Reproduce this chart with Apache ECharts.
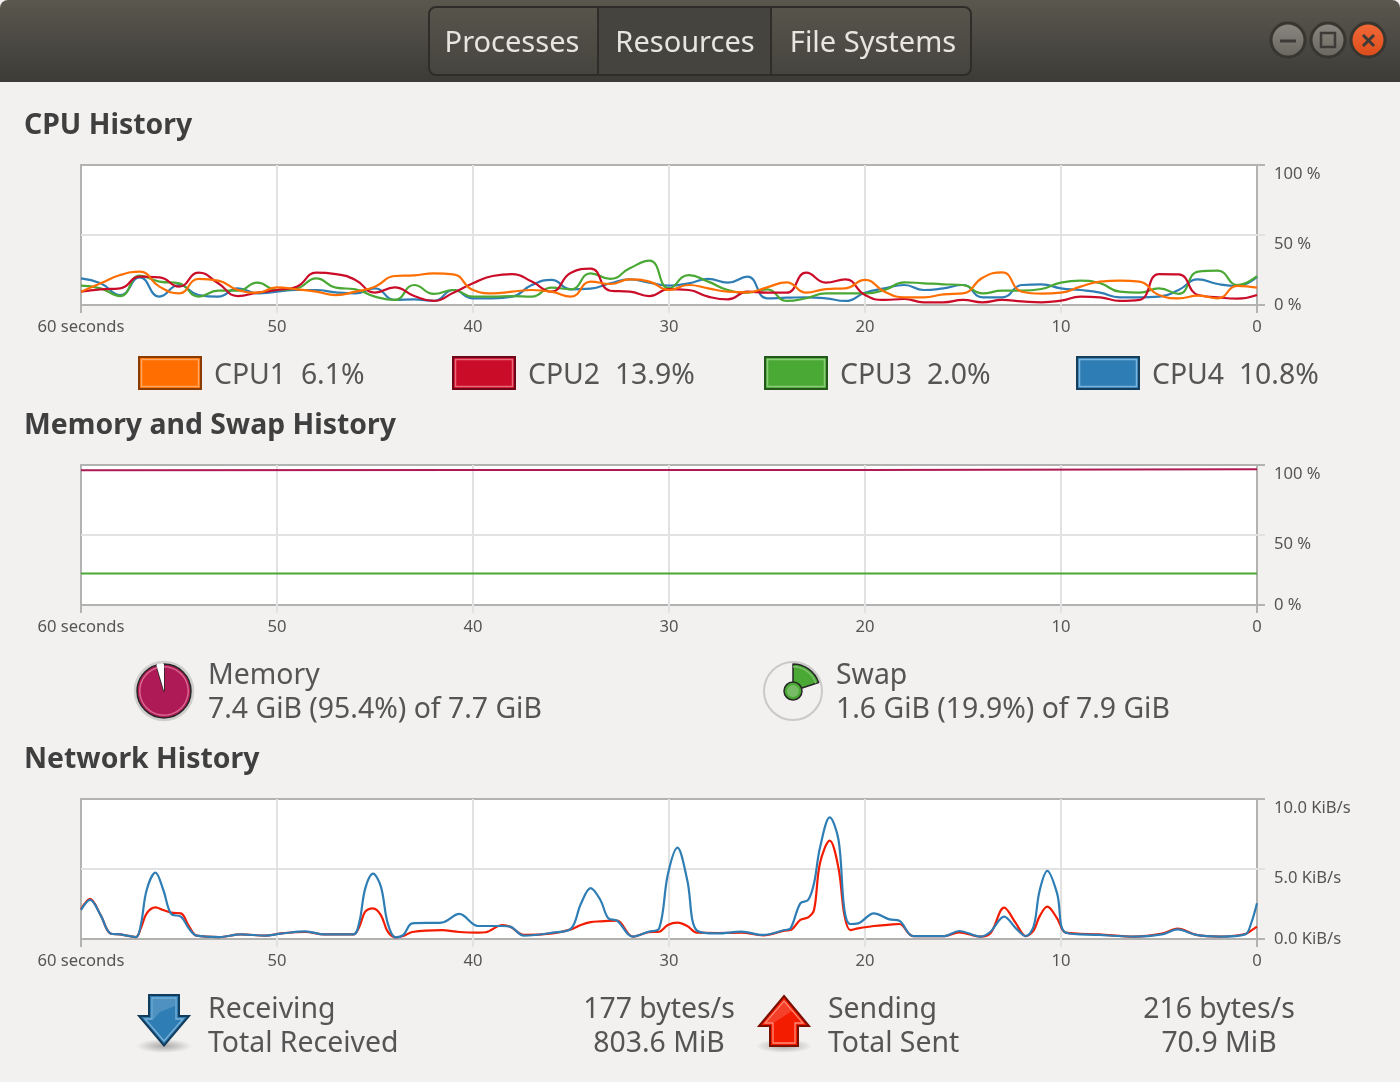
<!DOCTYPE html>
<html>
<head>
<meta charset="utf-8">
<title>Resources</title>
<script src="https://cdn.jsdelivr.net/npm/echarts@6/dist/echarts.min.js"></script>
<style>
  html, body { margin: 0; padding: 0; background: #f2f1f0; }
  #chart { width: 1400px; height: 1082px; }
</style>
</head>
<body>
<div id="chart"></div>
<script>
const fontFamily = '"Noto Sans", "Open Sans", sans-serif'

// seconds ago, one sample a second
const cpuSeconds = [60, 59, 58, 57, 56, 55, 54, 53, 52, 51, 50, 49, 48, 47, 46, 45, 44, 43, 42, 41,
  40, 39, 38, 37, 36, 35, 34, 33, 32, 31, 30, 29, 28, 27, 26, 25, 24, 23, 22, 21,
  20, 19, 18, 17, 16, 15, 14, 13, 12, 11, 10, 9, 8, 7, 6, 5, 4, 3, 2, 1, 0]
const cpu1 = [9.5, 15.5, 21.4, 23.8, 13.1, 8.3, 18.6, 17.4, 10.7, 8.8, 12.6, 11.2, 9.5, 7.1, 9.5, 13.1, 20.7, 21.2, 22.6, 21.9,
  10.7, 8.3, 9.5, 10.7, 9.5, 6, 16.7, 15, 18.3, 16.7, 10.7, 14.3, 11.9, 9.5, 9, 12.6, 16.2, 8.8, 11.4, 11.9,
  17.9, 9.5, 5.5, 5.5, 7.6, 8.3, 19.5, 23.3, 9.5, 8.1, 8.8, 13.1, 16.7, 17.4, 16.7, 7.1, 4.8, 6.7, 4.8, 13.6, 12.4]
const cpu2 = [9.5, 11.2, 11.9, 20.2, 19.8, 13.1, 23.1, 15.5, 6.4, 8.8, 10.7, 13.1, 23.1, 22.1, 17.9, 8.8, 12.6, 6.4, 2.9, 8.8,
  15.5, 20.7, 22.1, 16.7, 9.5, 23.1, 26, 10.2, 9.5, 6.4, 11.4, 10.7, 6, 4, 9.5, 8.8, 8.8, 23.1, 16, 18.3,
  7.1, 3.6, 4.3, 1.9, 1.9, 3.6, 1.9, 3.6, 2.6, 1.9, 3.1, 6, 5.5, 2.9, 3.6, 22.1, 21.9, 7.1, 5.5, 4.5, 7.1]
const cpu3 = [13.8, 11.9, 6.4, 21, 16.7, 15.5, 6, 10.2, 10.2, 16, 10.7, 11.9, 19, 12.4, 11.2, 6, 3.6, 14.3, 7.9, 10.7,
  6, 6, 6.4, 6, 12.4, 11.2, 22.6, 18.6, 26.2, 31.7, 11.9, 21.4, 16.7, 10.7, 8.8, 11.2, 2.9, 4.8, 8.3, 8.3,
  8.3, 10.7, 16.2, 15.5, 14.8, 14.3, 8.3, 10.2, 10.2, 11.4, 16, 17.4, 15.5, 9.5, 8.8, 11.9, 7.9, 23.8, 24.5, 14.3, 20.7]
const cpu4 = [19, 15.5, 7.1, 19.8, 6, 14.3, 7.1, 6, 11.9, 8.3, 9.5, 10.7, 10.7, 9, 8.3, 11.9, 3.6, 4, 2.9, 10.7,
  4.8, 4.8, 6, 14.3, 17.9, 11.2, 11.7, 15.5, 18.3, 16, 13.8, 15.5, 18.6, 16, 20.2, 4.8, 5.2, 5.5, 4.8, 2.9,
  8.8, 11.9, 14.3, 10.7, 11.9, 14.3, 5.5, 5.5, 14.3, 14.8, 11.9, 10.7, 8.8, 5.5, 5.5, 6, 10.7, 18.3, 15, 13.6, 20.2]

const memSeconds = [60, 40, 20, 0]
const memoryPct = [96.2, 96.4, 96.4, 97]
const swapPct = [22.5, 22.5, 22.5, 22.5]

// network curves have narrow peaks so they are read at the turning points
const netSeconds = [60, 59.54, 59, 58.5, 58, 57.2, 56.95, 56.65, 56.2, 55.8, 55.4, 54.9, 54.5, 54.1, 52.95, 51.85, 50.6, 49.8, 48.55, 47.6,
  46.1, 45.8, 45.5, 45.1, 44.7, 44.35, 43.95, 43.55, 43.1, 41.6, 40.7, 39.75, 39.35, 38.5, 38.1, 37.4, 35.95, 35, 34.5, 34,
  33.5, 33.1, 32.65, 31.85, 31.05, 30.5, 30.06, 29.57, 29.07, 28.57, 27.5, 26.3, 25.2, 24.1, 23.8, 23.3, 22.9, 22.6, 22.3, 21.8,
  21.35, 21.05, 20.75, 20.35, 19.55, 18.75, 18.25, 17.55, 15.95, 15.2, 14.1, 13.6, 12.9, 12.3, 11.8, 11.4, 11.1, 10.7, 10.2, 9.75,
  8.05, 6.25, 4.85, 4.05, 3.1, 1.9, 0.6, 0.3, 0]
const netReceived = [2.07, 2.79, 1.71, 0.4, 0.33, 0.14, 1, 3.5, 4.74, 3.5, 1.79, 1.6, 0.76, 0.24, 0.14, 0.33, 0.24, 0.38, 0.55, 0.33,
  0.33, 1.2, 3.6, 4.67, 3.74, 1.12, 0.12, 0.29, 1.12, 1.17, 1.79, 0.93, 0.93, 0.93, 0.88, 0.24, 0.45, 0.74, 2.5, 3.64,
  2.79, 1.48, 1.31, 0.17, 0.52, 0.76, 4.6, 6.52, 4.21, 0.6, 0.4, 0.52, 0.29, 0.64, 0.76, 2.55, 2.79, 3.98, 6.5, 8.69,
  7.07, 2.07, 1.07, 1.12, 1.83, 1.4, 1.31, 0.21, 0.21, 0.57, 0.17, 0.52, 1.6, 0.76, 0.21, 0.88, 3.4, 4.86, 3.26, 0.45,
  0.29, 0.17, 0.33, 0.69, 0.29, 0.17, 0.33, 1.12, 2.55]
const netSent = [2.12, 2.86, 1.71, 0.4, 0.33, 0.14, 0.76, 1.83, 2.26, 2.07, 1.88, 1.83, 0.93, 0.24, 0.14, 0.33, 0.24, 0.4, 0.5, 0.33,
  0.33, 0.88, 1.95, 2.19, 1.71, 0.52, 0.12, 0.21, 0.5, 0.64, 0.5, 0.45, 0.48, 1, 0.88, 0.29, 0.4, 0.69, 1, 1.21,
  1.26, 1.29, 1.31, 0.17, 0.48, 0.52, 1, 1.17, 0.93, 0.45, 0.43, 0.45, 0.26, 0.6, 0.64, 1.36, 1.55, 2.07, 5.4, 7.02,
  5.05, 1.71, 0.64, 0.76, 0.93, 1.02, 1.07, 0.21, 0.21, 0.48, 0.17, 0.4, 2.24, 1.12, 0.21, 0.6, 1.6, 2.31, 1.48, 0.45,
  0.33, 0.17, 0.38, 0.74, 0.29, 0.17, 0.36, 0.6, 0.88]

const memoryUsed = 95.4
const swapUsed = 19.9

const xTickLabels = { 60: '60 seconds', 50: '50', 40: '40', 30: '30', 20: '20', 10: '10', 0: '0' }
const tabLabels = ['Processes', 'Resources', 'File Systems']
const sectionTitles = ['CPU History', 'Memory and Swap History', 'Network History']
const cpuLegend = ['CPU1  6.1%', 'CPU2  13.9%', 'CPU3  2.0%', 'CPU4  10.8%']

const colors = { cpu1: '#ff6e00', cpu2: '#cb0c29', cpu3: '#4aa834', cpu4: '#2e7db4', memory: '#ad1a55', swap: '#4aa834', sent: '#f41c00', received: '#2e7db4' }
const frameColor = '#b2b2b0'
const gridColor = '#e2e2e2'
const textColor = '#555555'
const valueSize = 28.4
const tickSize = 16.6

// top of each plot, they are all 140 high
const gridTops = [165, 465, 799]

function makeGrid(top) {
  return { left: 81, right: 143, top, height: 140, show: true, backgroundColor: '#fff', borderColor: frameColor, borderWidth: 2 }
}

function makeXAxes(gridIndex) {
  return [
    {
      gridIndex, type: 'value', inverse: true, min: 0, max: 60, interval: 10,
      axisLine: { show: false },
      axisTick: { length: 8, lineStyle: { color: gridColor, width: 2 } },
      axisLabel: {
        margin: 14, color: textColor, fontFamily, fontSize: tickSize,
        formatter: v => xTickLabels[v]
      },
      splitLine: { show: true, showMinLine: false, showMaxLine: false, lineStyle: { color: gridColor, width: 2 } }
    },
    // the two outer ticks are as dark as the frame
    {
      gridIndex, type: 'value', inverse: true, position: 'bottom', min: 0, max: 60, interval: 60,
      axisLine: { show: false },
      axisTick: { length: 8, lineStyle: { color: frameColor, width: 2 } },
      axisLabel: { show: false },
      splitLine: { show: false }
    }
  ]
}

function makeYAxes(gridIndex, max, format) {
  return [
    {
      gridIndex, type: 'value', position: 'right', min: 0, max, interval: max / 2,
      axisLine: { show: false },
      axisTick: { length: 8, lineStyle: { color: gridColor, width: 2 } },
      axisLabel: {
        margin: 17, color: textColor, fontFamily, fontSize: tickSize, formatter: format,
        verticalAlign: 'top', verticalAlignMinLabel: 'middle', padding: [1, 0, 0, 0]
      },
      splitLine: { show: true, showMinLine: false, showMaxLine: false, lineStyle: { color: gridColor, width: 2 } }
    },
    {
      gridIndex, type: 'value', position: 'right', min: 0, max, interval: max,
      axisLine: { show: false },
      axisTick: { length: 8, lineStyle: { color: frameColor, width: 2 } },
      axisLabel: { show: false },
      splitLine: { show: false }
    }
  ]
}

function lineSeries(gridIndex, seconds, values, color, smooth) {
  return {
    type: 'line', xAxisIndex: gridIndex * 2, yAxisIndex: gridIndex * 2,
    data: seconds.map((s, i) => [s, values[i]]),
    smooth, symbol: 'none', silent: true,
    lineStyle: { color, width: smooth ? 2.2 : 2 }, z: 5
  }
}

function gaugeSeries(center, used, fill, rim, restFill) {
  const base = {
    type: 'pie', center, startAngle: 90, clockwise: true, silent: true, animation: false,
    label: { show: false }, labelLine: { show: false }, z: 3
  }
  return [
    {
      ...base, radius: [0, 27],
      data: [
        { value: used, itemStyle: { color: fill, borderColor: '#262626', borderWidth: 1.5 } },
        { value: 100 - used, itemStyle: { color: restFill, borderWidth: 0 } }
      ]
    },
    {
      ...base, radius: [23.5, 25], z: 4,
      data: [
        { value: used, itemStyle: { color: rim, borderWidth: 0 } },
        { value: 100 - used, itemStyle: { color: 'transparent', borderWidth: 0 } }
      ]
    }
  ]
}

function label(text, x, y, size, fill, extra) {
  return {
    type: 'text', z: 50, silent: true,
    style: { text, x, y, fill: fill || textColor, font: `${size}px ${fontFamily}`, textVerticalAlign: 'middle', ...extra }
  }
}

function title(text, y) {
  return label(text, 24, y, 28.4, '#3f3f3f', { font: `bold 28.4px ${fontFamily}` })
}

function rect(x, y, width, height, r, fill, stroke, lineWidth) {
  return { type: 'rect', z: 40, silent: true, shape: { x, y, width, height, r }, style: { fill, stroke, lineWidth } }
}

function circle(cx, cy, r, fill, stroke, lineWidth) {
  return { type: 'circle', z: 40, silent: true, shape: { cx, cy, r }, style: { fill, stroke, lineWidth } }
}

function vGradient(from, to) {
  return new echarts.graphic.LinearGradient(0, 0, 0, 1, [{ offset: 0, color: from }, { offset: 1, color: to }])
}

function headerBar() {
  const items = [
    rect(0, 0, 1400, 82, [8, 8, 0, 0], vGradient('#5a574e', '#3c3b37')),
    rect(429, 7, 542, 68, 7, vGradient('#57544b', '#45443e'), '#2e2d2a', 2),
    rect(599, 8, 172, 66, 0, '#45443e'),
    { type: 'line', z: 41, silent: true, shape: { x1: 598, y1: 8, x2: 598, y2: 74 }, style: { stroke: '#2e2d2a', lineWidth: 2 } },
    { type: 'line', z: 41, silent: true, shape: { x1: 771, y1: 8, x2: 771, y2: 74 }, style: { stroke: '#2e2d2a', lineWidth: 2 } }
  ]
  const tabCenters = [512, 685, 873]
  tabLabels.forEach((t, i) => {
    items.push(label(t, tabCenters[i], 43.5, 29, '#e6e5e0', { textAlign: 'center' }))
  })
  // window buttons
  items.push(circle(1288, 40, 17, vGradient('#8b8981', '#67655e'), '#37362f', 3))
  items.push(circle(1328, 40, 17, vGradient('#8b8981', '#67655e'), '#37362f', 3))
  items.push(circle(1368, 40, 17, vGradient('#f26b3a', '#dc4a18'), '#37362f', 3))
  items.push({ type: 'line', z: 41, silent: true, shape: { x1: 1280, y1: 41, x2: 1296, y2: 41 }, style: { stroke: '#3c3b37', lineWidth: 3 } })
  items.push({ type: 'rect', z: 41, silent: true, shape: { x: 1321, y: 33, width: 14, height: 14 }, style: { fill: 'transparent', stroke: '#3c3b37', lineWidth: 2.5 } })
  items.push({ type: 'line', z: 41, silent: true, shape: { x1: 1363, y1: 35, x2: 1374, y2: 46 }, style: { stroke: '#3c3b37', lineWidth: 3 } })
  items.push({ type: 'line', z: 41, silent: true, shape: { x1: 1374, y1: 35, x2: 1363, y2: 46 }, style: { stroke: '#3c3b37', lineWidth: 3 } })
  return items
}

function cpuSwatches() {
  const spots = [139, 453, 765, 1077]
  const fills = [colors.cpu1, colors.cpu2, colors.cpu3, colors.cpu4]
  const edges = ['#8a3c00', '#6e0618', '#25561a', '#143f5c']
  const rims = ['#ffa55f', '#e56a7e', '#8ccb7c', '#7db3d8']
  const items = []
  spots.forEach((x, i) => {
    items.push(rect(x, 357, 62, 32, 0, fills[i], edges[i], 2))
    items.push(rect(x + 2.5, 359.5, 57, 27, 0, 'transparent', rims[i], 1.5))
    items.push(label(cpuLegend[i], x + 75, 376, valueSize))
  })
  return items
}

function gaugeBacks() {
  return [
    { ...circle(164, 691, 29, '#f2f1f0', '#cfcfcd', 2.5), z: 1 },
    { ...circle(793, 691, 29, '#f2f1f0', '#c9c9c7', 2), z: 1 },
    circle(793, 691, 9, '#4aa834', '#262626', 1.5),
    circle(793, 691, 6, '#78bb66')
  ]
}

function arrow(points, inner, shine, edge, rim, fill, shadowX) {
  return [
    {
      type: 'circle', z: 30, silent: true, scaleY: 0.25, originY: 1046, originX: shadowX,
      shape: { cx: shadowX, cy: 1046, r: 28 },
      style: { fill: new echarts.graphic.RadialGradient(0.5, 0.5, 0.5, [{ offset: 0, color: 'rgba(0,0,0,0.3)' }, { offset: 1, color: 'rgba(0,0,0,0)' }]) }
    },
    { type: 'polygon', z: 40, silent: true, shape: { points }, style: { fill, stroke: edge, lineWidth: 2 } },
    { type: 'polygon', z: 41, silent: true, shape: { points: shine }, style: { fill: 'rgba(255,255,255,0.16)' } },
    { type: 'polygon', z: 42, silent: true, shape: { points: inner }, style: { fill: 'transparent', stroke: rim, lineWidth: 1.3 } }
  ]
}

const option = {
  animation: false,
  backgroundColor: '#f2f1f0',
  grid: gridTops.map(makeGrid),
  xAxis: [0, 1, 2].flatMap(makeXAxes),
  yAxis: [
    ...makeYAxes(0, 100, v => `${v} %`),
    ...makeYAxes(1, 100, v => `${v} %`),
    ...makeYAxes(2, 10, v => `${v.toFixed(1)} KiB/s`)
  ],
  series: [
    lineSeries(0, cpuSeconds, cpu4, colors.cpu4, 0.5),
    lineSeries(0, cpuSeconds, cpu3, colors.cpu3, 0.5),
    lineSeries(0, cpuSeconds, cpu2, colors.cpu2, 0.5),
    lineSeries(0, cpuSeconds, cpu1, colors.cpu1, 0.5),
    lineSeries(1, memSeconds, swapPct, colors.swap, false),
    lineSeries(1, memSeconds, memoryPct, colors.memory, false),
    lineSeries(2, netSeconds, netSent, colors.sent, 0.35),
    lineSeries(2, netSeconds, netReceived, colors.received, 0.35),
    ...gaugeSeries([164, 691], memoryUsed, colors.memory, '#d9668f', '#ffffff'),
    ...gaugeSeries([793, 691], swapUsed, colors.swap, '#7fc06d', 'transparent')
  ],
  graphic: [
    ...headerBar(),
    title(sectionTitles[0], 126),
    title(sectionTitles[1], 426),
    title(sectionTitles[2], 760),
    ...cpuSwatches(),
    ...gaugeBacks(),
    label('Memory', 208, 676, valueSize),
    label('7.4 GiB (95.4%) of 7.7 GiB', 208, 710, valueSize),
    label('Swap', 836, 676, valueSize),
    label('1.6 GiB (19.9%) of 7.9 GiB', 836, 710, valueSize),
    ...arrow(
      [[149, 995], [179, 995], [179, 1016], [189, 1016], [164, 1045.5], [139, 1016], [149, 1016]],
      [[152, 998], [176, 998], [176, 1019], [183, 1019], [164, 1041], [145, 1019], [152, 1019]],
      [[153, 999], [175, 999], [175, 1006], [160, 1012], [153, 1020]],
      '#123c5c', '#7db3d8', '#2e7db4', 164
    ),
    ...arrow(
      [[784, 996], [809, 1026], [798, 1026], [798, 1046], [770, 1046], [770, 1026], [759, 1026]],
      [[784, 1001], [803, 1023], [795, 1023], [795, 1043], [773, 1043], [773, 1023], [765, 1023]],
      [[784, 1002], [792, 1011], [775, 1022], [766, 1022]],
      '#7a0f00', '#ff8a75', '#f41c00', 784
    ),
    label('Receiving', 208, 1010, valueSize),
    label('Total Received', 208, 1044, valueSize),
    label('177 bytes/s', 659, 1010, valueSize, textColor, { textAlign: 'center' }),
    label('803.6 MiB', 659, 1044, valueSize, textColor, { textAlign: 'center' }),
    label('Sending', 828, 1010, valueSize),
    label('Total Sent', 828, 1044, valueSize),
    label('216 bytes/s', 1219, 1010, valueSize, textColor, { textAlign: 'center' }),
    label('70.9 MiB', 1219, 1044, valueSize, textColor, { textAlign: 'center' })
  ]
}

const chart = echarts.init(document.getElementById('chart'), null, { renderer: 'canvas' })
chart.setOption(option)
</script>
</body>
</html>
